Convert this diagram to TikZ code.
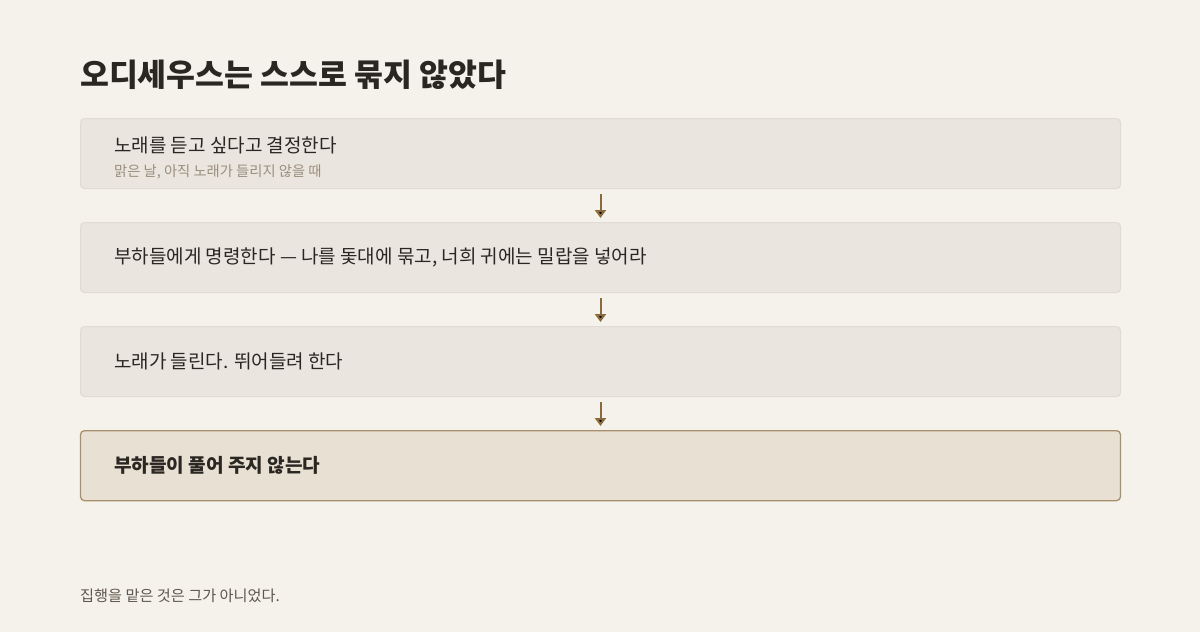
\documentclass[tikz,border=0pt]{standalone}
\usepackage{fontspec}
\setmainfont{Noto Sans CJK KR}
\usepackage{tikz}
\usetikzlibrary{ arrows.meta, calc, positioning }
\definecolor{paper}{HTML}{F5F2EB}
\definecolor{boxfill}{HTML}{EAE6DF}
\definecolor{boxline}{HTML}{E0DCD3}
\definecolor{keyfill}{HTML}{E8E0D2}
\definecolor{keyline}{HTML}{A8906C}
\definecolor{arrowc}{HTML}{8B6A3E}
\definecolor{ink}{HTML}{2A2622}
\definecolor{subink}{HTML}{9A8E7E}
\definecolor{footink}{HTML}{5E564C}
\tikzset{
>={Triangle[width=11pt,length=8pt]}, % filled arrow heads
node distance=33pt, % gap between two steps
stepbox/.style={draw=boxline, fill=boxfill, line width=1pt, rounded corners=4pt,
  minimum width=1040pt, minimum height=70pt, inner sep=0pt},
keybox/.style={stepbox, draw=keyline, fill=keyfill, line width=1.3pt},
steptext/.style={anchor=west, inner sep=0pt, text=ink, font=\fontsize{19pt}{22pt}\selectfont},
subtext/.style={anchor=west, inner sep=0pt, text=subink, font=\fontsize{14.3pt}{17pt}\selectfont},
flow/.style={->, draw=arrowc, line width=2pt, shorten <=5pt, shorten >=4pt},
}

\begin{document}
\begin{tikzpicture}[x=1pt, y=-1pt]
  % page and background --------------------------------
  \fill[paper] (0,0) rectangle (1200,632);
  \useasboundingbox (0,0) rectangle (1200,632);

  % title
  \node[anchor=west, inner sep=0pt, text=ink, font=\fontsize{31.4pt}{35pt}\selectfont\bfseries]
    (title) at (80,75) {오디세우스는 스스로 묶지 않았다};

  % steps ----------------------------------------------
  \node[stepbox, anchor=north west] (s1) at (80,118) {};
  \node[stepbox, below=of s1] (s2) {};
  \node[stepbox, below=of s2] (s3) {};
  \node[keybox, below=of s3] (s4) {};

  % texts in the steps
  \node[steptext] (t1) at ($(s1.north west)+(34,27)$) {노래를 듣고 싶다고 결정한다};
  \node[subtext] (u1) at ($(s1.north west)+(34,53.5)$) {맑은 날, 아직 노래가 들리지 않을 때};
  \node[steptext, right=34pt of s2.west] (t2) {부하들에게 명령한다 — 나를 돛대에 묶고, 너희 귀에는 밀랍을 넣어라};
  \node[steptext, right=34pt of s3.west] (t3) {노래가 들린다. 뛰어들려 한다};
  \node[steptext, font=\fontsize{19.1pt}{22pt}\selectfont\bfseries, right=34pt of s4.west] (t4) {부하들이 풀어 주지 않는다};

  % footer
  \node[anchor=west, inner sep=0pt, text=footink, font=\fontsize{15.2pt}{18pt}\selectfont]
    (foot) at (80,596) {집행을 맡은 것은 그가 아니었다.};

  \path[flow]
  (s1) edge (s2)
  (s2) edge (s3)
  (s3) edge (s4) ;
\end{tikzpicture}
\end{document}
